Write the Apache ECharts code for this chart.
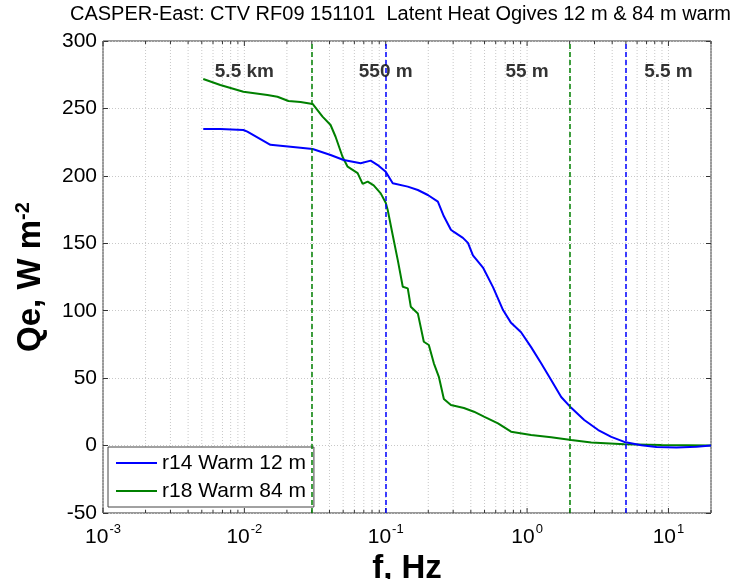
<!DOCTYPE html>
<html><head><meta charset="utf-8">
<script src="https://cdn.jsdelivr.net/npm/echarts@6/dist/echarts.min.js"></script>
<style>html,body{margin:0;padding:0;background:#fff}#c{width:741px;height:579px}</style>
</head><body><div id="c"></div>
<script>
const FONT = '"Liberation Sans", Arial, Helvetica, sans-serif';
const titleText = 'CASPER-East: CTV RF09 151101  Latent Heat Ogives 12 m & 84 m warm';
const seriesNames = ['r14 Warm 12 m', 'r18 Warm 84 m'];

// r14 Warm 12 m (blue)
const blueF = [0.00512, 0.00676, 0.00984, 0.0105, 0.01529, 0.02495, 0.0304, 0.04073, 0.05038, 0.06648,
  0.07824, 0.08777, 0.1, 0.1121, 0.1432, 0.1687, 0.1986, 0.2338, 0.2578, 0.2891,
  0.3036, 0.3517, 0.3816, 0.414, 0.4875, 0.574, 0.6759, 0.77, 0.9066, 1.0676,
  1.2571, 1.4801, 1.7428, 2.0516, 2.5368, 3.1872, 3.9417, 4.874, 6.4358, 8.2205,
  11.394, 15.8, 20];
const blueQe = [234.8, 234.8, 234, 232.8, 223, 220.9, 219.9, 215.5, 211.8, 209.3,
  211.3, 208, 203.1, 194.5, 192, 189.5, 185.8, 180.9, 170, 160,
  158.4, 154, 150.3, 141, 132, 117.5, 100.5, 91, 84, 73,
  61, 48.6, 36, 28, 19, 11.5, 6.4, 2.7, 0.3, -1,
  -1.5, -0.8, 0];

// r18 Warm 84 m (green)
const greenF = [0.00512, 0.00676, 0.00984, 0.01456, 0.01714, 0.02051, 0.02495, 0.0304, 0.03573, 0.04073,
  0.04418, 0.04955, 0.05376, 0.06329, 0.06867, 0.07455, 0.08222, 0.09216, 0.1, 0.1033,
  0.1121, 0.1217, 0.132, 0.1432, 0.1504, 0.1687, 0.186, 0.2018, 0.219, 0.2376,
  0.2578, 0.2891, 0.3574, 0.4208, 0.4955, 0.6226, 0.77, 1.0676, 1.4801, 2.0516,
  2.8435, 4.874, 8.92, 20];
const greenQe = [271.8, 267.4, 262.4, 260, 258.7, 255.5, 254.8, 253.3, 243.9, 237.7,
  229, 214, 206.8, 202, 194, 195.7, 193, 187, 180, 174.7,
  156, 137.5, 117.8, 116.6, 103, 98, 77, 74.6, 61, 51,
  34.5, 30.1, 27.9, 25.1, 21.4, 16.5, 10.3, 7.9, 6.1, 4.1,
  2.2, 1, 0.4, 0];

const blueCutoffs = [0.1, 5];
const greenCutoffs = [0.03, 2];
const scaleLabels = ['5.5 km', '550 m', '55 m', '5.5 m'];
const scaleLabelF = [0.01, 0.1, 1, 10];
const scaleLabelY = 277;

const xMin = 0.001, xMax = 20;
const yMin = -50, yMax = 300, yStep = 50;
const decades = [0.001, 0.01, 0.1, 1, 10];
const minorMult = [2, 3, 4, 5, 6, 7, 8, 9];

const BLUE = '#0000ff', GREEN = '#008000';

const xGridVals = [];
decades.forEach(d => {
  xGridVals.push([d, yMin, 1]);
  minorMult.forEach(m => { const v = d * m; if (v <= xMax * 1.0001) xGridVals.push([v, yMin, 0]); });
});

function zip(a, b) { return a.map((v, i) => [v, b[i]]); }

const chart = echarts.init(document.getElementById('c'), null, {renderer: 'canvas'});
chart.setOption({
  animation: false,
  backgroundColor: '#fff',
  title: {
    text: titleText, left: 70, top: 4, padding: 0,
    textStyle: {fontFamily: FONT, fontSize: 20, fontWeight: 'normal', color: '#000'}
  },
  grid: {left: 103, top: 41, right: 30, bottom: 66, outerBoundsMode: 'none', containLabel: false,
    show: true, borderColor: '#333', borderWidth: 1, backgroundColor: 'transparent'},
  legend: {
    orient: 'vertical', left: 108, top: 447,
    data: seriesNames.map(n => ({name: n, icon: 'rect'})), selectedMode: false,
    itemWidth: 41, itemHeight: 2, itemGap: 6,
    padding: [5, 8, 5, 8],
    backgroundColor: '#fff', borderColor: '#444', borderWidth: 1,
    textStyle: {fontFamily: FONT, fontSize: 21, color: '#000', lineHeight: 22}
  },
  xAxis: [{
    type: 'log', logBase: 10, min: xMin, max: xMax,
    name: 'f, Hz', nameLocation: 'middle', nameGap: 27,
    nameTextStyle: {fontFamily: FONT, fontSize: 33, fontWeight: 'bold', color: '#000'},
    axisLine: {show: false}, axisTick: {show: false}, splitLine: {show: false},
    axisLabel: {
      margin: 6, color: '#000',
      formatter: function (v) {
        const l = Math.log10(v); const e = Math.round(l);
        if (Math.abs(l - e) > 1e-6) return '';
        return '{b|10}{s|' + e + '}';
      },
      rich: {
        b: {fontFamily: FONT, fontSize: 21, color: '#000', padding: [8, 0, 0, 0]},
        s: {fontFamily: FONT, fontSize: 13, color: '#000', padding: [0, 0, 8, 1]}
      }
    }
  }],
  yAxis: [{
    type: 'value', min: yMin, max: yMax, interval: yStep,
    name: '{a|Qe, W m}{s|-2}', nameLocation: 'middle', nameGap: 54, nameRotate: 90,
    nameTextStyle: {
      rich: {
        a: {fontFamily: FONT, fontSize: 33, fontWeight: 'bold', color: '#000'},
        s: {fontFamily: FONT, fontSize: 20, fontWeight: 'bold', color: '#000', padding: [0, 0, 16, 0]}
      }
    },
    axisLine: {show: false},
    axisTick: {show: true, inside: true, length: 5, lineStyle: {color: '#333'}},
    axisLabel: {margin: 6, fontFamily: FONT, fontSize: 21, color: '#000'},
    splitLine: {show: true, lineStyle: {color: '#c8c8c8', type: [1, 2], width: 1}}
  }, {
    type: 'value', min: yMin, max: yMax, interval: yStep, position: 'right',
    axisLine: {show: false},
    axisTick: {show: true, inside: true, length: 5, lineStyle: {color: '#333'}},
    axisLabel: {show: false}, splitLine: {show: false}
  }],
  series: [{
    type: 'custom', name: 'xgrid', silent: true, z: 1,
    data: xGridVals,
    renderItem: function (params, api) {
      const f = api.value(0), major = api.value(2) === 1;
      const b = api.coord([f, yMin]), t = api.coord([f, yMax]);
      const len = major ? 5 : 3;
      return {type: 'group', children: [
        {type: 'line', shape: {x1: b[0], y1: b[1], x2: t[0], y2: t[1]}, style: {stroke: '#c8c8c8', lineWidth: 1, lineDash: [1, 2]}},
        {type: 'line', shape: {x1: b[0], y1: b[1], x2: b[0], y2: b[1] - len}, style: {stroke: '#333', lineWidth: 1}},
        {type: 'line', shape: {x1: t[0], y1: t[1], x2: t[0], y2: t[1] + len}, style: {stroke: '#333', lineWidth: 1}}
      ]};
    }
  }, {
    type: 'line', name: seriesNames[0], data: zip(blueF, blueQe),
    symbol: 'none', showSymbol: false, z: 4,
    lineStyle: {color: BLUE, width: 2}, itemStyle: {color: BLUE},
    markLine: {
      silent: true, symbol: 'none', label: {show: false},
      lineStyle: {color: BLUE, width: 1.5, type: [5, 3]},
      data: blueCutoffs.map(v => ({xAxis: v}))
    }
  }, {
    type: 'line', name: seriesNames[1], data: zip(greenF, greenQe),
    symbol: 'none', showSymbol: false, z: 3,
    lineStyle: {color: GREEN, width: 2}, itemStyle: {color: GREEN},
    markLine: {
      silent: true, symbol: 'none', label: {show: false},
      lineStyle: {color: GREEN, width: 1.5, type: [5, 3]},
      data: greenCutoffs.map(v => ({xAxis: v}))
    }
  }, {
    type: 'scatter', name: 'scales', silent: true, z: 6,
    data: scaleLabelF.map((f, i) => [f, scaleLabelY, scaleLabels[i]]),
    symbolSize: 1, itemStyle: {color: 'rgba(0,0,0,0)'},
    label: {show: true, position: 'inside', formatter: p => p.data[2],
      fontFamily: FONT, fontSize: 19, fontWeight: 'bold', color: '#000', textBorderWidth: 0}
  }]
});
</script></body></html>
